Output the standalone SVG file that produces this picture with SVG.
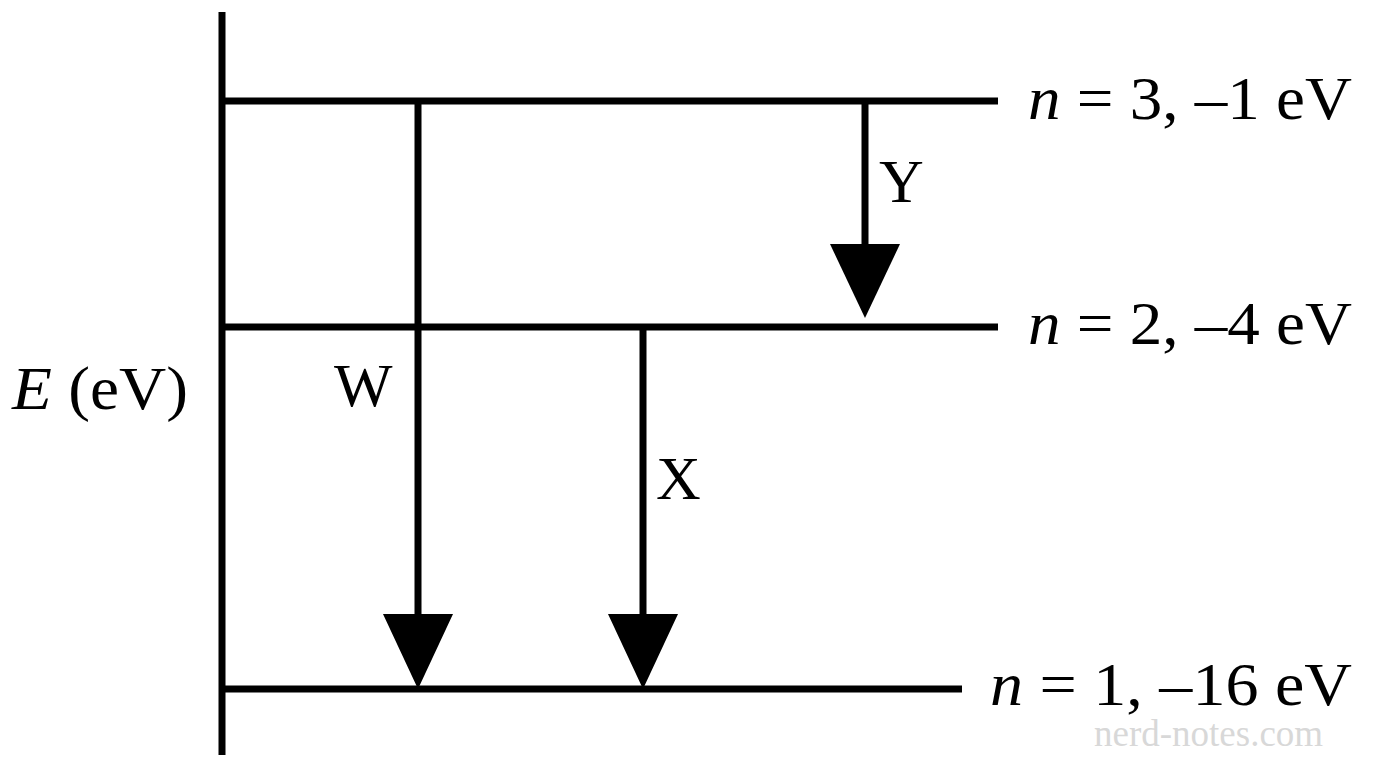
<svg xmlns="http://www.w3.org/2000/svg" width="1376" height="768" viewBox="0 0 1376 768">
<style>
.ln{stroke:#000;stroke-width:7;fill:none}
.t{font-family:"Liberation Serif",serif;font-size:62px;fill:#000}
.i{font-style:italic}
</style>
<rect width="1376" height="768" fill="#fff"/>
<g id="axis"><line class="ln" x1="222" y1="12" x2="222" y2="755"/></g>
<g id="level3"><line class="ln" x1="222" y1="101" x2="998" y2="101"/><text class="t" x="1028" y="119" textLength="324" lengthAdjust="spacingAndGlyphs"><tspan class="i">n</tspan> = 3, –1 eV</text></g>
<g id="level2"><line class="ln" x1="222" y1="327" x2="998" y2="327"/><text class="t" x="1028" y="344" textLength="324" lengthAdjust="spacingAndGlyphs"><tspan class="i">n</tspan> = 2, –4 eV</text></g>
<g id="level1"><line class="ln" x1="222" y1="689" x2="962" y2="689"/><text class="t" x="990" y="705" textLength="362" lengthAdjust="spacingAndGlyphs"><tspan class="i">n</tspan> = 1, –16 eV</text></g>
<g id="ylabel"><text class="t" x="12" y="409" textLength="176" lengthAdjust="spacingAndGlyphs"><tspan class="i">E</tspan> (eV)</text></g>
<g id="connectors">
<line class="ln" x1="418" y1="101" x2="418" y2="625"/><polygon points="383,614 453,614 418,689"/>
<line class="ln" x1="643" y1="327" x2="643" y2="625"/><polygon points="608,614 678,614 643,689"/>
<line class="ln" x1="865" y1="101" x2="865" y2="255"/><polygon points="830,244 900,244 865,318"/>
</g>
<g id="labels">
<text class="t" x="334" y="406">W</text>
<text class="t" x="656" y="499">X</text>
<text class="t" x="879" y="202">Y</text>
</g>
<text x="1094" y="746" font-family="Liberation Serif,serif" font-size="37" fill="#d8d8d8">nerd-notes.com</text>
</svg>
